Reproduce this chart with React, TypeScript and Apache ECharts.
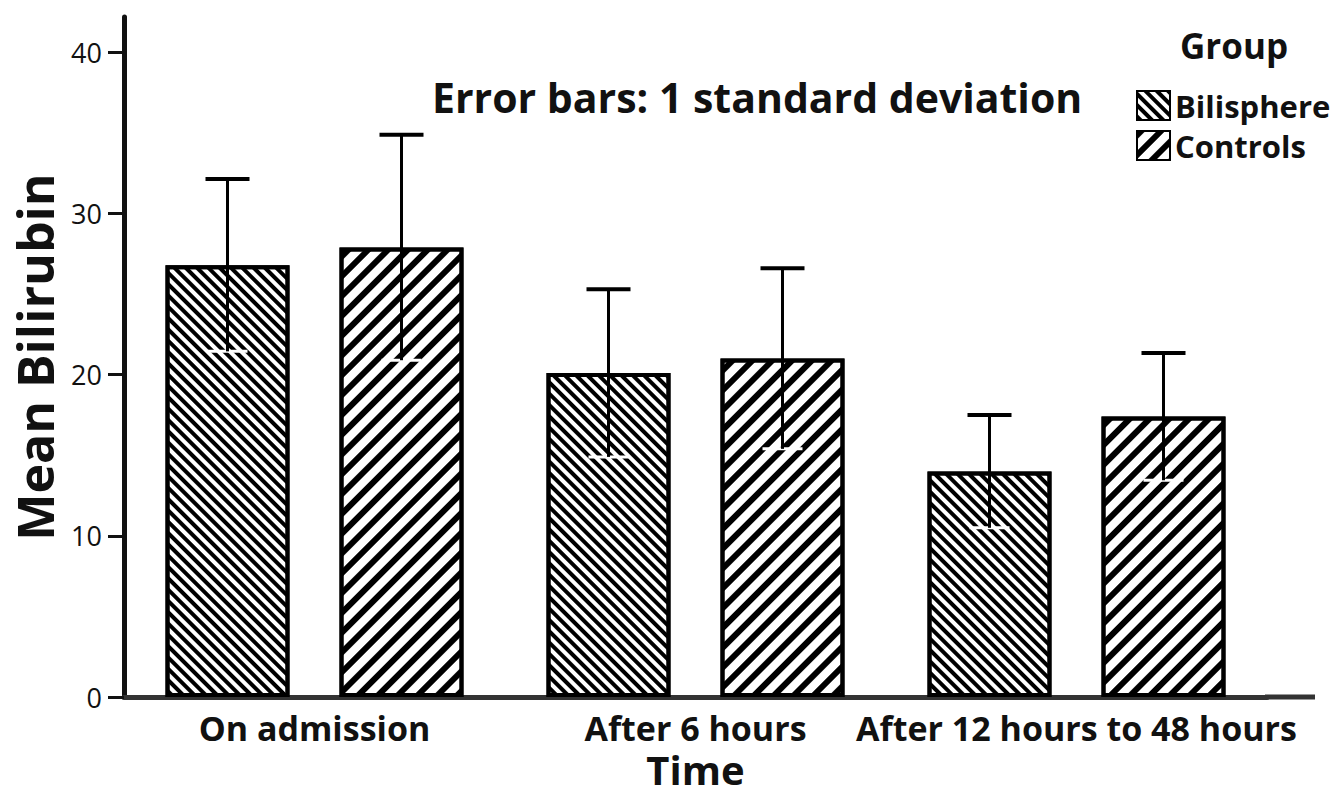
import React, { useEffect, useRef } from "react";
import * as echarts from "echarts";

const categories = ["On admission", "After 6 hours", "After 12 hours to 48 hours"];
const seriesNames = ["Bilisphere", "Controls"];
const bilisphereMean = [26.8, 20.1, 14.0];
const bilisphereSD = [5.35, 5.2, 3.5];
const controlsMean = [27.9, 21.0, 17.4];
const controlsSD = [7.0, 5.6, 3.95];
const yTicks = [0, 10, 20, 30, 40];

const FONT = "'Open Sans', 'Noto Sans', sans-serif";
const GRID_LEFT = 124;
const GRID_WIDTH = 1143;
const GRID_TOP = 17;
const GRID_BOTTOM = 101;
const BAR_WIDTH = 124;
const BAR_GAP = 50;
const OFFSET = (BAR_WIDTH + BAR_GAP) / 2;

const decalB = {
  symbol: "rect",
  dashArrayX: [1, 0],
  dashArrayY: [4, 4],
  symbolSize: 1,
  rotation: Math.PI / 4,
  color: "#000",
  backgroundColor: "#fff",
};
const decalC = {
  symbol: "rect",
  dashArrayX: [1, 0],
  dashArrayY: [6, 8],
  symbolSize: 1,
  rotation: -Math.PI / 4,
  color: "#000",
  backgroundColor: "#fff",
};

function errorSeries(means: number[], sds: number[], dir: number) {
  return {
    type: "custom",
    z: 5,
    silent: true,
    data: means.map((m, i) => [i, m, sds[i]]),
    renderItem: (params: any, api: any) => {
      const idx = api.value(0);
      const mean = api.value(1);
      const sd = api.value(2);
      const top = api.coord([idx, mean + sd]);
      const bot = api.coord([idx, mean - sd]);
      const x = top[0] + dir * OFFSET;
      return {
        type: "group",
        children: [
          { type: "line", shape: { x1: x - 20, y1: bot[1], x2: x + 20, y2: bot[1] }, style: { stroke: "#fff", lineWidth: 3 } },
          { type: "line", shape: { x1: x, y1: top[1], x2: x, y2: bot[1] }, style: { stroke: "#000", lineWidth: 3 } },
          { type: "line", shape: { x1: x - 22, y1: top[1], x2: x + 22, y2: top[1] }, style: { stroke: "#000", lineWidth: 4 } },
        ],
      };
    },
  };
}

export default function App() {
  const ref = useRef<HTMLDivElement>(null);
  useEffect(() => {
    document.body.style.margin = "0";
    const chart = echarts.init(ref.current!, null, { renderer: "svg" });
    const axisY = 798 - GRID_BOTTOM;
    chart.setOption({
      animation: false,
      backgroundColor: "#fff",
      textStyle: { fontFamily: FONT },
      title: [
        { text: "Group", left: 1180, top: 28, padding: 0, textStyle: { fontFamily: FONT, fontSize: 35, fontWeight: "bold", color: "#111" } },
        { text: "Error bars: 1 standard deviation", left: 432, top: 76, padding: 0, textStyle: { fontFamily: FONT, fontSize: 41, fontWeight: "bold", color: "#111" } },
      ],
      legend: {
        data: seriesNames,
        orient: "vertical",
        left: 1136,
        top: 90,
        padding: 0,
        itemWidth: 33,
        itemHeight: 29,
        itemGap: 9,
        icon: "rect",
        textStyle: { fontFamily: FONT, fontSize: 31, fontWeight: "bold", color: "#111" },
      },
      grid: { left: GRID_LEFT, width: GRID_WIDTH, top: GRID_TOP, bottom: GRID_BOTTOM, outerBoundsMode: "none", containLabel: false },
      xAxis: {
        type: "category",
        data: categories,
        name: "Time",
        nameLocation: "middle",
        nameGap: 46,
        nameTextStyle: { fontFamily: FONT, fontSize: 40, fontWeight: "bold", color: "#111" },
        axisLine: { lineStyle: { color: "#333", width: 5 } },
        axisTick: { alignWithLabel: true, length: 9, lineStyle: { color: "#111", width: 3 } },
        axisLabel: { interval: 0, fontFamily: FONT, fontSize: 34, fontWeight: "bold", color: "#111", margin: 14 },
      },
      yAxis: {
        type: "value",
        min: 0,
        max: 42.2,
        name: "Mean Bilirubin",
        nameLocation: "middle",
        nameGap: 60,
        nameTextStyle: { fontFamily: FONT, fontSize: 50, fontWeight: "bold", color: "#111" },
        axisLine: { show: true, lineStyle: { color: "#111", width: 5 } },
        axisTick: { show: true, length: 16, customValues: yTicks, lineStyle: { color: "#111", width: 3 } },
        axisLabel: { customValues: yTicks, fontFamily: FONT, fontSize: 27, color: "#111", margin: 22 },
        splitLine: { show: false },
      },
      graphic: [
        {
          type: "line",
          shape: { x1: GRID_LEFT + GRID_WIDTH - 2, y1: axisY, x2: 1315, y2: axisY },
          style: { stroke: "#333", lineWidth: 5 },
        },
      ],
      series: [
        {
          name: seriesNames[0],
          type: "bar",
          data: bilisphereMean,
          barWidth: BAR_WIDTH,
          barGap: (BAR_GAP / BAR_WIDTH) * 100 + "%",
          itemStyle: { color: "#fff", borderColor: "#000", borderWidth: 4, decal: decalB },
        },
        {
          name: seriesNames[1],
          type: "bar",
          data: controlsMean,
          barWidth: BAR_WIDTH,
          barGap: (BAR_GAP / BAR_WIDTH) * 100 + "%",
          itemStyle: { color: "#fff", borderColor: "#000", borderWidth: 4, decal: decalC },
        },
        errorSeries(bilisphereMean, bilisphereSD, -1),
        errorSeries(controlsMean, controlsSD, 1),
      ],
    });
    return () => chart.dispose();
  }, []);
  return <div ref={ref} style={{ width: 1341, height: 798 }} />;
}
